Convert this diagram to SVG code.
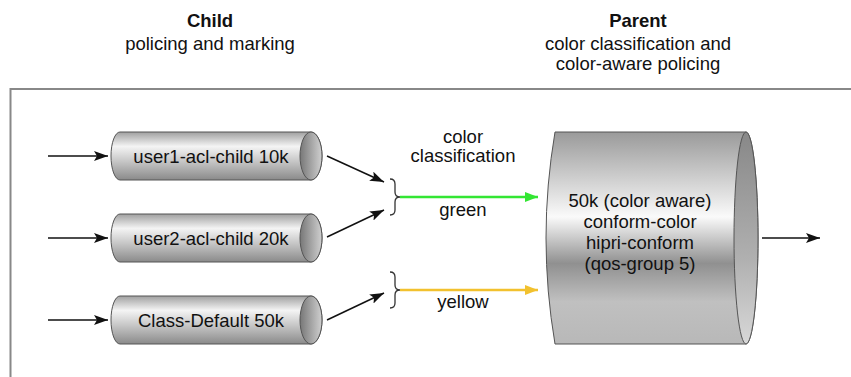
<svg xmlns="http://www.w3.org/2000/svg" width="851" height="377" viewBox="0 0 851 377">
<style>
text{font-family:"Liberation Sans",Arial,sans-serif;font-size:18.5px;fill:#111;text-anchor:middle}
.b{font-weight:bold}
.cyl{fill:url(#gBody);stroke:#555;stroke-width:1}
.cap{fill:url(#gCap);stroke:#555;stroke-width:1}
.ln{stroke:#111;stroke-width:1.5;fill:none}
.brace{stroke:#333;stroke-width:1.3;fill:none}
</style>
<defs>
<linearGradient id="gBody" x1="0" y1="0" x2="0" y2="1">
<stop offset="0" stop-color="#a0a0a0"/>
<stop offset="0.3" stop-color="#f4f4f4"/>
<stop offset="0.6" stop-color="#c8c8c8"/>
<stop offset="1" stop-color="#8a8a8a"/>
</linearGradient>
<linearGradient id="gCap" x1="0" y1="0" x2="1" y2="0">
<stop offset="0" stop-color="#777"/>
<stop offset="1" stop-color="#d0d0d0"/>
</linearGradient>
<linearGradient id="gBig" x1="0" y1="0" x2="0" y2="1">
<stop offset="0" stop-color="#9a9a9a"/>
<stop offset="0.4" stop-color="#fafafa"/>
<stop offset="0.62" stop-color="#909090"/>
<stop offset="0.8" stop-color="#c0c0c0"/>
<stop offset="1" stop-color="#b8b8b8"/>
</linearGradient>
<linearGradient id="gBigCap" x1="0" y1="0" x2="0" y2="1">
<stop offset="0" stop-color="#888"/>
<stop offset="0.6" stop-color="#b0b0b0"/>
<stop offset="1" stop-color="#d8d8d8"/>
</linearGradient>
<marker id="ah" viewBox="0 0 14 10" refX="14" refY="5" markerWidth="14" markerHeight="10" markerUnits="userSpaceOnUse" orient="auto">
<path d="M0,0 L14,5 L0,10 L3,5 Z" fill="#111"/>
</marker>
<marker id="ahG" viewBox="0 0 13 10" refX="13" refY="5" markerWidth="13" markerHeight="10" markerUnits="userSpaceOnUse" orient="auto">
<path d="M0,0 L13,5 L0,10 Z" fill="#33e633"/>
</marker>
<marker id="ahY" viewBox="0 0 13 10" refX="13" refY="5" markerWidth="13" markerHeight="10" markerUnits="userSpaceOnUse" orient="auto">
<path d="M0,0 L13,5 L0,10 Z" fill="#f2c12e"/>
</marker>
</defs>
<rect width="851" height="377" fill="#fff"/>
<g id="frame">
<path d="M10.5,377 L10.5,89 L851,89" stroke="#888" stroke-width="2" fill="none"/>
</g>
<g id="header-child">
<text class="b" x="210" y="27">Child</text>
<text x="210" y="50">policing and marking</text>
</g>
<g id="header-parent">
<text class="b" x="638" y="27">Parent</text>
<text x="638" y="50">color classification and</text>
<text x="638" y="70">color-aware policing</text>
</g>
<g id="node-user1">
<path class="cyl" d="M120,132 L311,132 A11,24 0 0 1 311,180 L120,180 A9,24 0 0 1 120,132 Z"/>
<ellipse class="cap" cx="311" cy="156" rx="11" ry="24"/>
<text x="211" y="163">user1-acl-child 10k</text>
</g>
<g id="node-user2">
<path class="cyl" d="M120,214 L311,214 A11,24 0 0 1 311,262 L120,262 A9,24 0 0 1 120,214 Z"/>
<ellipse class="cap" cx="311" cy="238" rx="11" ry="24"/>
<text x="211" y="245">user2-acl-child 20k</text>
</g>
<g id="node-default">
<path class="cyl" d="M120,296 L311,296 A11,24 0 0 1 311,344 L120,344 A9,24 0 0 1 120,296 Z"/>
<ellipse class="cap" cx="311" cy="320" rx="11" ry="24"/>
<text x="211" y="327">Class-Default 50k</text>
</g>
<g id="node-parent">
<path d="M555,132 L746,132 A12,106 0 0 1 746,344 L555,344 Q537,238 555,132 Z" fill="url(#gBig)" stroke="#555" stroke-width="1"/>
<ellipse cx="746" cy="238" rx="12" ry="106" fill="url(#gBigCap)" stroke="#555" stroke-width="1"/>
<text x="640" y="207">50k (color aware)</text>
<text x="640" y="228">conform-color</text>
<text x="640" y="249">hipri-conform</text>
<text x="640" y="270">(qos-group 5)</text>
</g>
<g id="labels">
<text x="463" y="143">color</text>
<text x="463" y="162">classification</text>
<text x="463" y="216">green</text>
<text x="463" y="308">yellow</text>
</g>
<g id="connectors">
<line class="ln" x1="48" y1="156" x2="108" y2="156" marker-end="url(#ah)"/>
<line class="ln" x1="48" y1="238" x2="108" y2="238" marker-end="url(#ah)"/>
<line class="ln" x1="48" y1="320" x2="108" y2="320" marker-end="url(#ah)"/>
<line class="ln" x1="327" y1="156" x2="384" y2="182" marker-end="url(#ah)"/>
<line class="ln" x1="327" y1="237" x2="384" y2="210" marker-end="url(#ah)"/>
<line class="ln" x1="327" y1="320" x2="384" y2="293" marker-end="url(#ah)"/>
<path class="brace" d="M390,179 Q395,179 395,184 L395,192 Q395,197 400,197 Q395,197 395,202 L395,210 Q395,215 390,215"/>
<path class="brace" d="M390,272 Q395,272 395,277 L395,285 Q395,290 400,290 Q395,290 395,295 L395,303 Q395,308 390,308"/>
<line x1="400" y1="197" x2="538" y2="197" stroke="#33e633" stroke-width="2.5" marker-end="url(#ahG)"/>
<line x1="400" y1="290" x2="538" y2="290" stroke="#f2c12e" stroke-width="2.5" marker-end="url(#ahY)"/>
<line class="ln" x1="762" y1="238" x2="820" y2="238" marker-end="url(#ah)"/>
</g>
</svg>
